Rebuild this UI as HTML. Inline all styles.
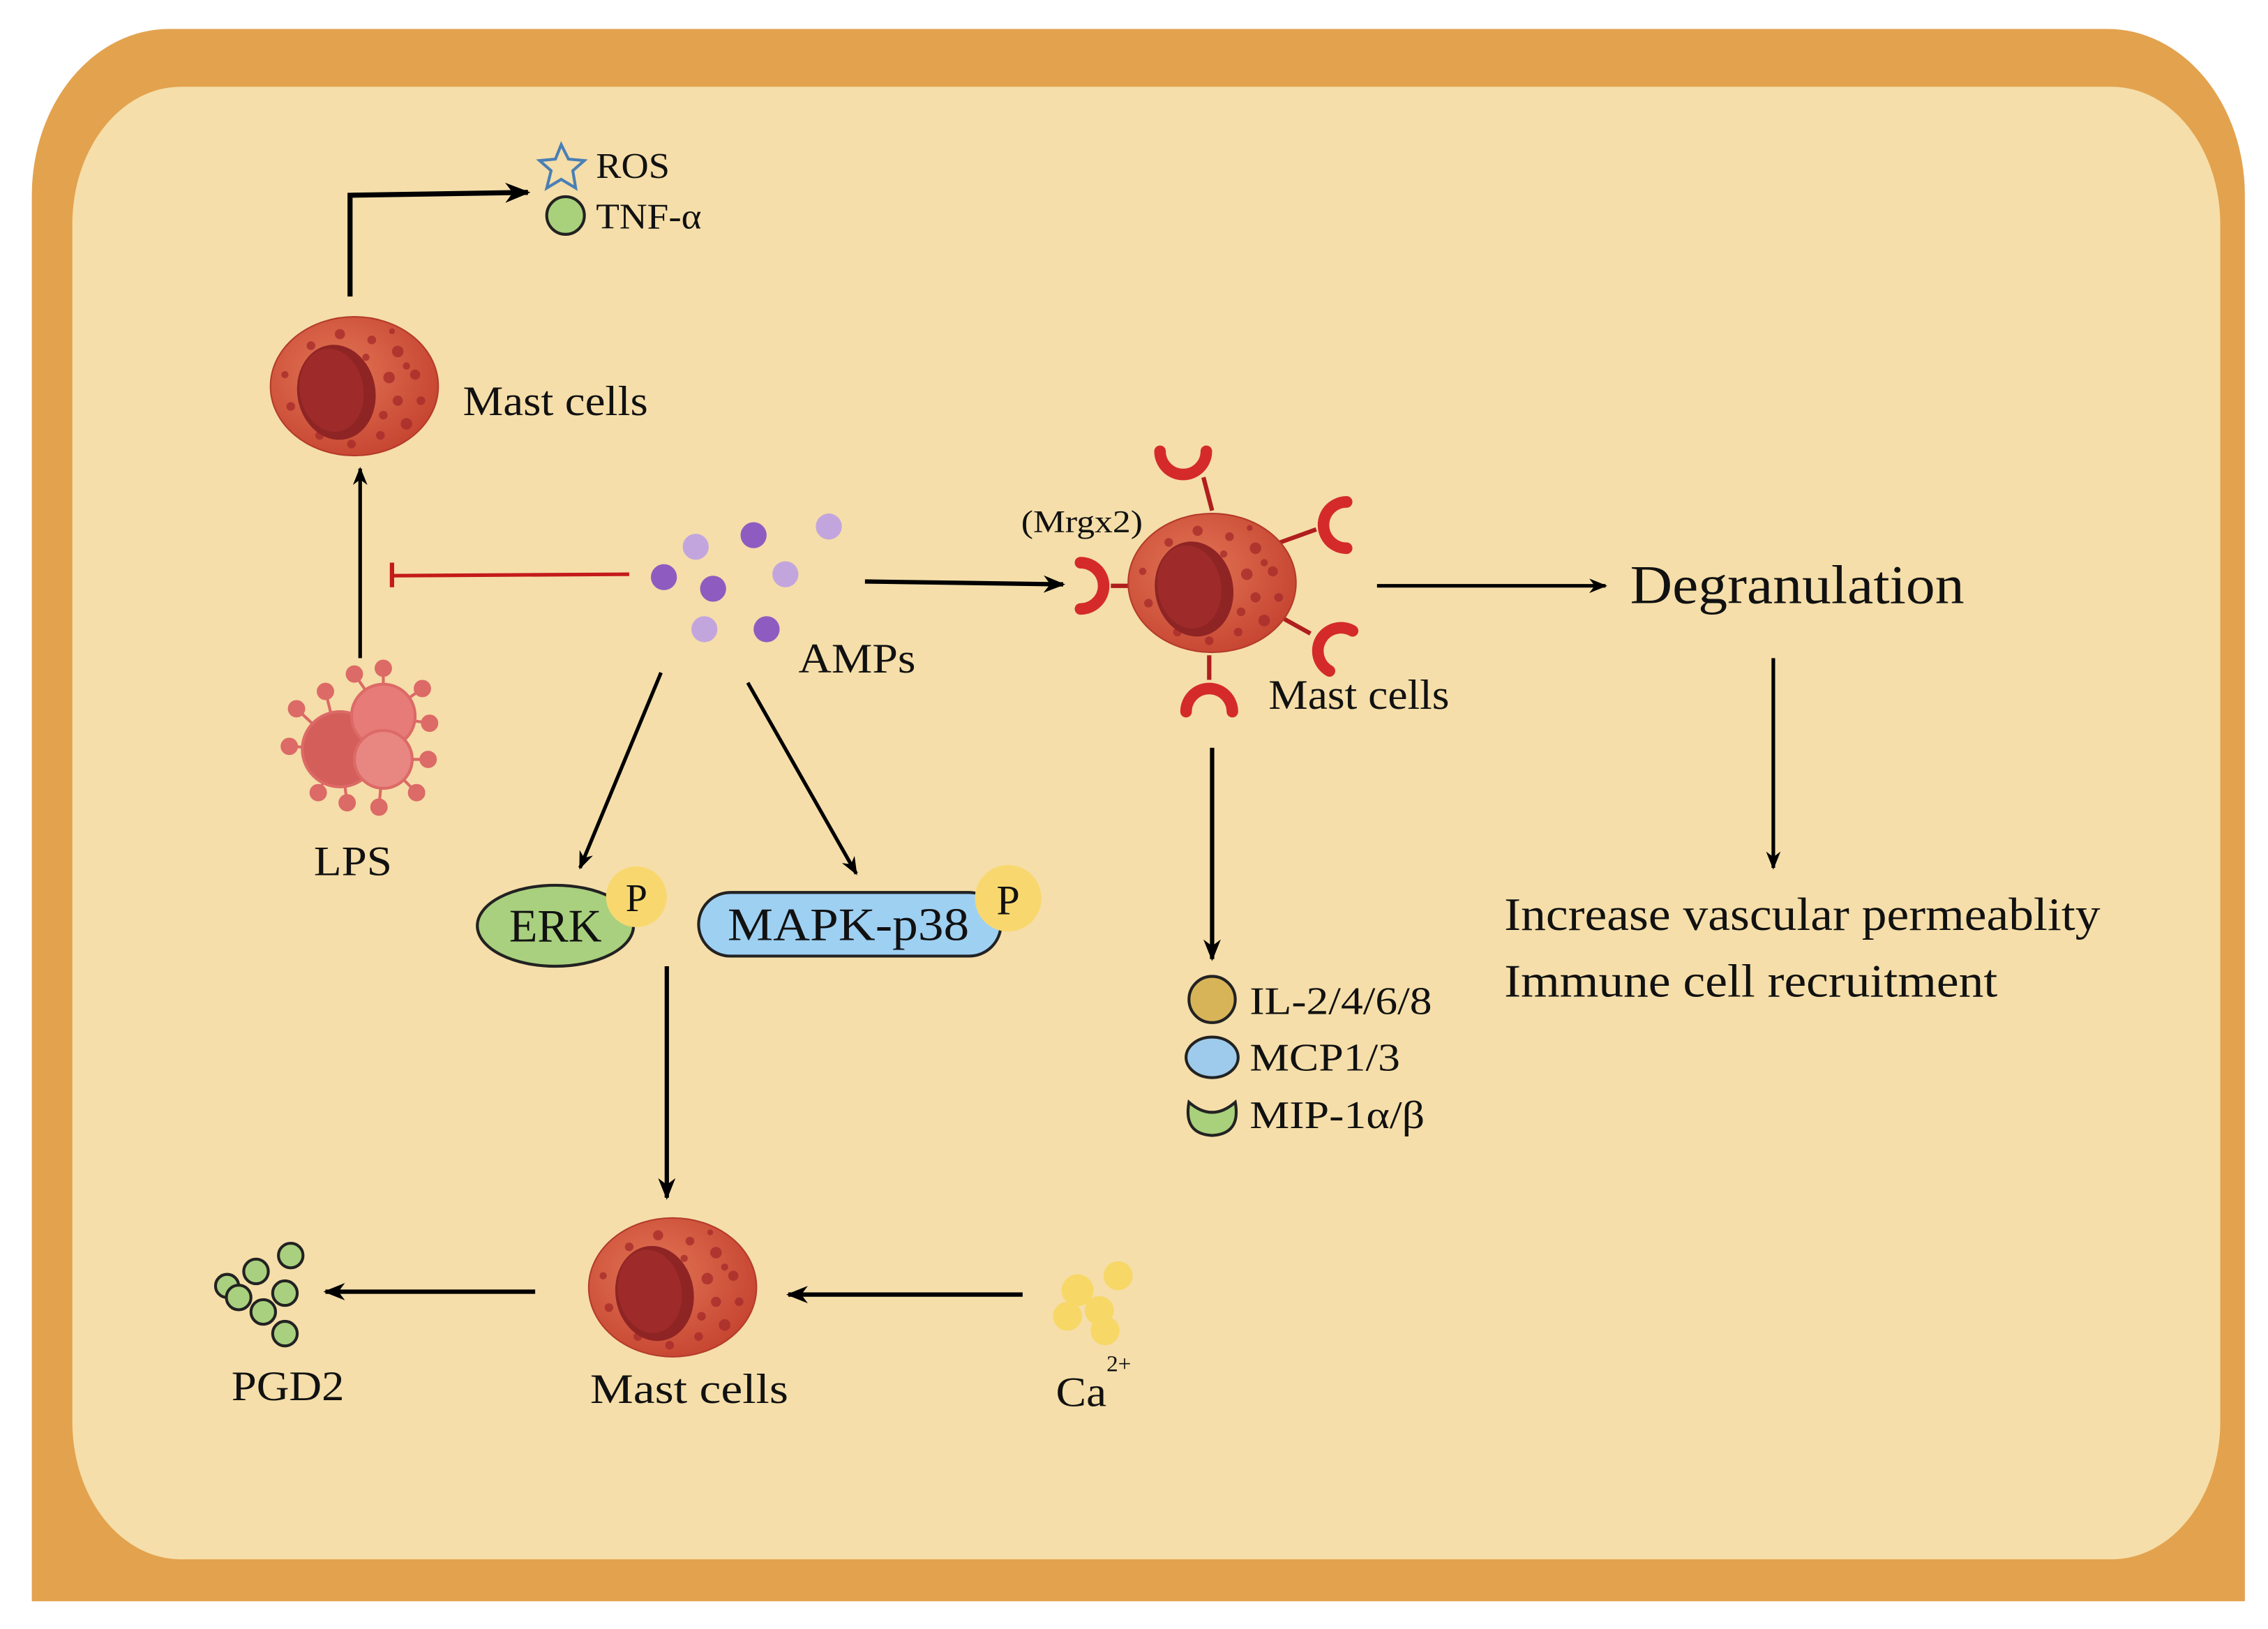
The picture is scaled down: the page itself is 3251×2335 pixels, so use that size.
<!DOCTYPE html>
<html><head><meta charset="utf-8"><style>html,body{margin:0;padding:0;background:#fff;width:3251px;height:2335px;overflow:hidden}svg{display:block}text{font-family:"Liberation Serif",serif;fill:#111}</style></head>
<body>
<svg width="3251" height="2335" viewBox="0 0 1568 1126.2" xmlns="http://www.w3.org/2000/svg">
<defs>
<marker id="ah" viewBox="0 0 10 10" refX="9" refY="5" markerWidth="5" markerHeight="5" orient="auto-start-reverse" markerUnits="strokeWidth"><path d="M0,1 L10,5 L0,9 L3,5 z" fill="#000"/></marker>
<radialGradient id="cg" cx="0.4" cy="0.4" r="0.7"><stop offset="0" stop-color="#e27555"/><stop offset="1" stop-color="#c4412e"/></radialGradient>
<g id="cell">
<ellipse cx="0" cy="0" rx="58" ry="48" fill="url(#cg)" stroke="#b43a2b" stroke-width="1"/>
<g fill="#a52a2a" opacity="0.75">
<circle cx="-30" cy="-28" r="3"/><circle cx="-10" cy="-36" r="3.5"/><circle cx="12" cy="-32" r="3"/><circle cx="30" cy="-24" r="4"/><circle cx="42" cy="-8" r="3.5"/><circle cx="46" cy="10" r="3"/><circle cx="36" cy="26" r="4"/><circle cx="18" cy="34" r="3"/><circle cx="-2" cy="40" r="3"/><circle cx="-24" cy="34" r="3"/><circle cx="-44" cy="14" r="3"/><circle cx="-48" cy="-8" r="2.5"/><circle cx="24" cy="-6" r="4"/><circle cx="30" cy="10" r="3.5"/><circle cx="20" cy="20" r="3"/><circle cx="36" cy="-14" r="2.5"/><circle cx="8" cy="-20" r="2.5"/><circle cx="26" cy="-38" r="2"/>
</g>
<ellipse cx="-13" cy="2" rx="27" ry="33" fill="#8e2424" transform="rotate(-10)"/>
<ellipse cx="-16" cy="0" rx="22" ry="29" fill="#9e2a2a" transform="rotate(-10)"/>
</g>
<g id="rec"><path d="M-16,-14 A16 16 0 0 0 16,-14" fill="none" stroke="#d42a2a" stroke-width="8" stroke-linecap="round"/></g>
</defs>
<rect x="0" y="0" width="1568" height="1126" fill="#fff"/>
<path d="M22,1107 L22,135 A95 115 0 0 1 117,20 L1457,20 A95 115 0 0 1 1552,135 L1552,1107 Z" fill="#E3A24E"/>
<rect x="50" y="60" width="1485" height="1018" rx="75" ry="95" fill="#F5DEA9"/>

<use href="#cell" x="245" y="267"/>
<text x="320" y="287" font-size="29" textLength="128" lengthAdjust="spacingAndGlyphs">Mast cells</text>
<path d="M242,205 L242,135 L365,133" fill="none" stroke="#000" stroke-width="3.5" marker-end="url(#ah)"/>
<path d="M388,100 L393,110 L404,111 L396,118 L398,130 L388,124 L378,130 L381,118 L373,111 L384,110 Z" fill="none" stroke="#4a7fb5" stroke-width="2"/>
<text x="412" y="123" font-size="25" textLength="51" lengthAdjust="spacingAndGlyphs">ROS</text>
<circle cx="391" cy="149" r="13" fill="#a9d07b" stroke="#222" stroke-width="2"/>
<text x="412" y="158" font-size="25" textLength="73" lengthAdjust="spacingAndGlyphs">TNF-α</text>

<line x1="249" y1="455" x2="249" y2="324" stroke="#000" stroke-width="2.5" marker-end="url(#ah)"/>
<g fill="#dc6a66" stroke="#dc6a66" stroke-width="2">
<line x1="235" y1="518" x2="200" y2="516"/><line x1="235" y1="518" x2="205" y2="490"/><line x1="235" y1="518" x2="220" y2="548"/><line x1="235" y1="518" x2="240" y2="555"/><line x1="265" y1="495" x2="265" y2="462"/><line x1="265" y1="495" x2="292" y2="476"/><line x1="265" y1="495" x2="297" y2="500"/><line x1="265" y1="525" x2="296" y2="525"/><line x1="265" y1="525" x2="288" y2="548"/><line x1="265" y1="525" x2="262" y2="558"/><line x1="235" y1="518" x2="225" y2="478"/><line x1="265" y1="495" x2="245" y2="466"/>
<circle cx="200" cy="516" r="5"/><circle cx="205" cy="490" r="5"/><circle cx="220" cy="548" r="5"/><circle cx="240" cy="555" r="5"/><circle cx="265" cy="462" r="5"/><circle cx="292" cy="476" r="5"/><circle cx="297" cy="500" r="5"/><circle cx="296" cy="525" r="5"/><circle cx="288" cy="548" r="5"/><circle cx="262" cy="558" r="5"/><circle cx="225" cy="478" r="5"/><circle cx="245" cy="466" r="5"/>
<circle cx="235" cy="518" r="26" fill="#d45e5a"/>
<circle cx="265" cy="495" r="22" fill="#e77b77"/>
<circle cx="265" cy="525" r="20" fill="#e88682"/>
</g>
<text x="217" y="605" font-size="29" textLength="54" lengthAdjust="spacingAndGlyphs">LPS</text>

<line x1="435" y1="397" x2="271" y2="398" stroke="#c41a1a" stroke-width="2.5"/>
<line x1="271" y1="389" x2="271" y2="406" stroke="#c41a1a" stroke-width="3"/>

<g fill="#8E5CC0"><circle cx="459" cy="399" r="9"/><circle cx="493" cy="407" r="9"/><circle cx="521" cy="370" r="9"/><circle cx="530" cy="435" r="9"/></g>
<g fill="#C3A5DE"><circle cx="481" cy="378" r="9"/><circle cx="543" cy="397" r="9"/><circle cx="573" cy="364" r="9"/><circle cx="487" cy="435" r="9"/></g>
<text x="552" y="465" font-size="29" textLength="81" lengthAdjust="spacingAndGlyphs">AMPs</text>
<line x1="598" y1="402" x2="735" y2="404" stroke="#000" stroke-width="3" marker-end="url(#ah)"/>

<g stroke="#b01e1e" stroke-width="3">
<line x1="838" y1="353" x2="832" y2="330"/><line x1="885" y1="375" x2="910" y2="366"/><line x1="780" y1="405" x2="768" y2="405"/><line x1="888" y1="428" x2="906" y2="438"/><line x1="836" y1="453" x2="836" y2="470"/>
</g>
<use href="#cell" x="838" y="403"/>
<use href="#rec" transform="translate(818,326)"/>
<use href="#rec" transform="translate(917,363) rotate(90)"/>
<use href="#rec" transform="translate(761,405) rotate(-90)"/>
<use href="#rec" transform="translate(915,443) rotate(120)"/>
<use href="#rec" transform="translate(836,478) rotate(180)"/>
<text x="706" y="368" font-size="22" textLength="84" lengthAdjust="spacingAndGlyphs">(Mrgx2)</text>
<text x="877" y="490" font-size="29" textLength="125" lengthAdjust="spacingAndGlyphs">Mast cells</text>
<line x1="952" y1="405" x2="1110" y2="405" stroke="#000" stroke-width="2.5" marker-end="url(#ah)"/>
<text x="1127" y="417" font-size="38" textLength="231" lengthAdjust="spacingAndGlyphs">Degranulation</text>
<line x1="1226" y1="455" x2="1226" y2="600" stroke="#000" stroke-width="2.5" marker-end="url(#ah)"/>
<text x="1040" y="643" font-size="32" textLength="412" lengthAdjust="spacingAndGlyphs">Increase vascular permeablity</text>
<text x="1040" y="689" font-size="32" textLength="341" lengthAdjust="spacingAndGlyphs">Immune cell recruitment</text>

<line x1="838" y1="517" x2="838" y2="663" stroke="#000" stroke-width="3" marker-end="url(#ah)"/>
<circle cx="838" cy="691" r="16" fill="#D8B458" stroke="#222" stroke-width="2"/>
<text x="864" y="701" font-size="27" textLength="126" lengthAdjust="spacingAndGlyphs">IL-2/4/6/8</text>
<ellipse cx="838" cy="731" rx="18" ry="14" fill="#9ECBEB" stroke="#222" stroke-width="2"/>
<text x="864" y="740" font-size="27" textLength="104" lengthAdjust="spacingAndGlyphs">MCP1/3</text>
<path d="M822,762 Q838,776 854,762 Q858,784 838,785 Q818,784 822,762 Z" fill="#a9d07b" stroke="#222" stroke-width="2"/>
<text x="864" y="780" font-size="27" textLength="121" lengthAdjust="spacingAndGlyphs">MIP-1α/β</text>

<line x1="457" y1="465" x2="401" y2="600" stroke="#000" stroke-width="2.5" marker-end="url(#ah)"/>
<line x1="517" y1="472" x2="592" y2="604" stroke="#000" stroke-width="2.5" marker-end="url(#ah)"/>
<ellipse cx="384" cy="640" rx="54" ry="28" fill="#A9D07E" stroke="#222" stroke-width="2"/>
<text x="352" y="651" font-size="32" textLength="64" lengthAdjust="spacingAndGlyphs">ERK</text>
<circle cx="440" cy="620" r="21" fill="#F8D86E"/>
<text x="440" y="630" font-size="27" text-anchor="middle">P</text>
<rect x="483" y="617" width="209" height="44" rx="22" fill="#9ED0F2" stroke="#222" stroke-width="2"/>
<text x="503" y="650" font-size="32" textLength="167" lengthAdjust="spacingAndGlyphs">MAPK-p38</text>
<circle cx="697" cy="621" r="23" fill="#F8D86E"/>
<text x="697" y="632" font-size="29" text-anchor="middle">P</text>

<line x1="461" y1="668" x2="461" y2="828" stroke="#000" stroke-width="3" marker-end="url(#ah)"/>
<use href="#cell" x="465" y="890"/>
<text x="408" y="970" font-size="29" textLength="137" lengthAdjust="spacingAndGlyphs">Mast cells</text>
<line x1="707" y1="895" x2="545" y2="895" stroke="#000" stroke-width="3" marker-end="url(#ah)"/>
<line x1="370" y1="893" x2="225" y2="893" stroke="#000" stroke-width="3" marker-end="url(#ah)"/>

<g fill="#A9D07E" stroke="#222" stroke-width="2">
<circle cx="157" cy="889" r="8"/><circle cx="177" cy="879" r="8.5"/><circle cx="201" cy="868" r="8.5"/><circle cx="165" cy="897" r="8.5"/><circle cx="197" cy="894" r="8.5"/><circle cx="182" cy="907" r="8.5"/><circle cx="197" cy="922" r="8.5"/>
</g>
<text x="160" y="968" font-size="29" textLength="78" lengthAdjust="spacingAndGlyphs">PGD2</text>

<g fill="#F7D766">
<circle cx="773" cy="882" r="10"/><circle cx="745" cy="892" r="11"/><circle cx="760" cy="906" r="10"/><circle cx="738" cy="910" r="10"/><circle cx="764" cy="920" r="10"/>
</g>
<text x="730" y="972" font-size="29" textLength="35" lengthAdjust="spacingAndGlyphs">Ca</text>
<text x="765" y="948" font-size="16">2+</text>
</svg>
</body></html>
